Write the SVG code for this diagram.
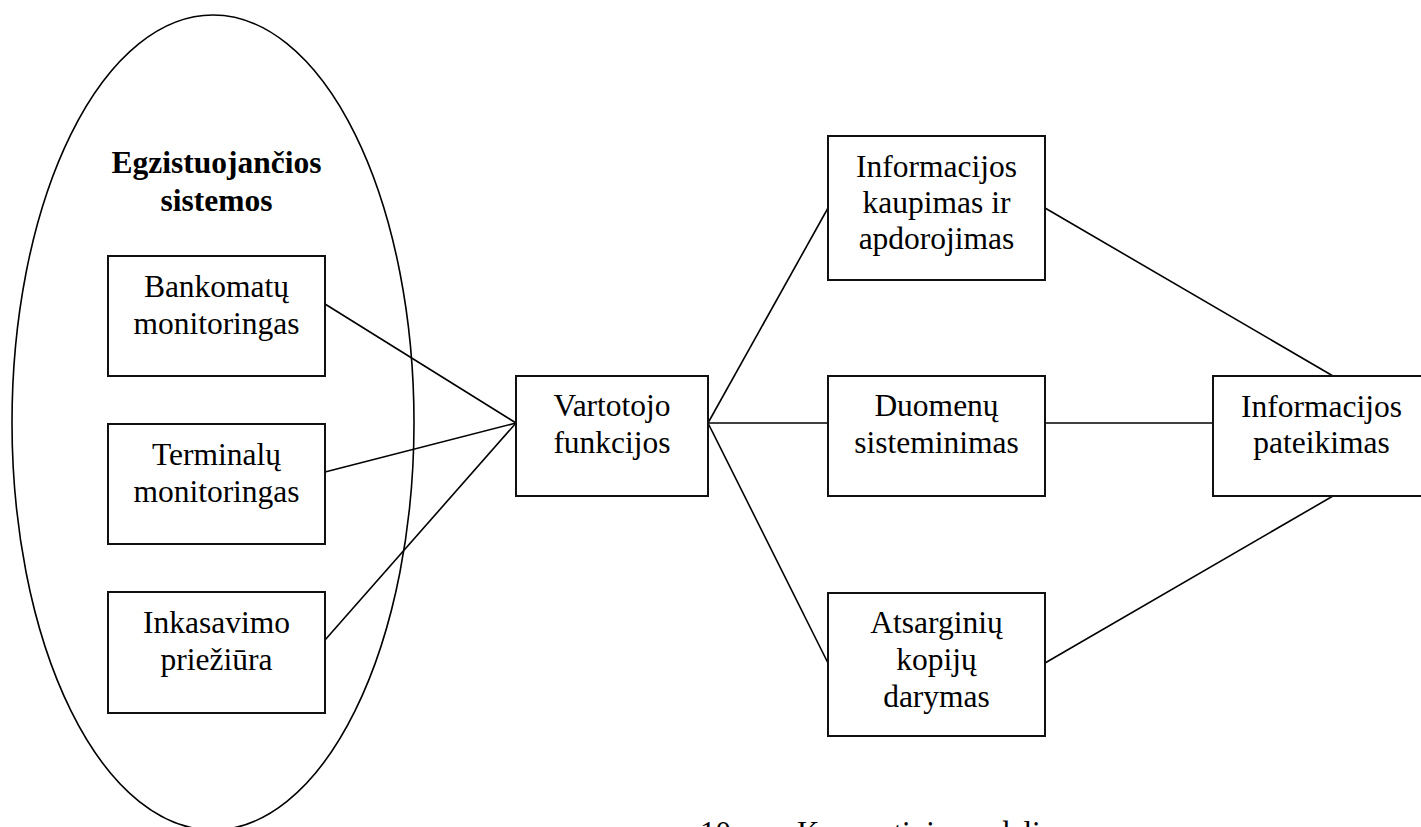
<svg xmlns="http://www.w3.org/2000/svg" width="1421" height="827" viewBox="0 0 1421 827">
  <style>
    .box { fill: none; stroke: #111; stroke-width: 2; }
    .edge { fill: none; stroke: #000; stroke-width: 1.6; }
    .lbl { font-family: "Liberation Serif", "Times New Roman", serif; font-size: 31.5px; fill: #000; text-anchor: middle; }
    .hdr { font-weight: bold; }
  </style>
  <rect width="1421" height="827" fill="#fff"/>

  <!-- group of existing systems -->
  <g id="existing-systems">
    <ellipse cx="213" cy="422.5" rx="201" ry="407.5" class="edge"/>
    <text class="lbl hdr" x="216.5" y="173">Egzistuojančios</text>
    <text class="lbl hdr" x="216.5" y="211">sistemos</text>
  </g>

  <!-- connectors -->
  <g id="connectors">
    <line class="edge" x1="325" y1="304" x2="516" y2="423"/>
    <line class="edge" x1="325" y1="472" x2="516" y2="423"/>
    <line class="edge" x1="325" y1="640" x2="516" y2="423"/>
    <line class="edge" x1="708" y1="423" x2="828" y2="208"/>
    <line class="edge" x1="708" y1="423" x2="828" y2="423"/>
    <line class="edge" x1="708" y1="423" x2="828" y2="663"/>
    <line class="edge" x1="1045" y1="208" x2="1333" y2="376"/>
    <line class="edge" x1="1045" y1="423" x2="1213" y2="423"/>
    <line class="edge" x1="1045" y1="663" x2="1333" y2="496"/>
  </g>

  <g id="bankomatu">
    <rect class="box" x="108" y="256" width="217" height="120"/>
    <text class="lbl" x="216.5" y="297">Bankomatų</text>
    <text class="lbl" x="216.5" y="334">monitoringas</text>
  </g>
  <g id="terminalu">
    <rect class="box" x="108" y="424" width="217" height="120"/>
    <text class="lbl" x="216.5" y="465">Terminalų</text>
    <text class="lbl" x="216.5" y="502">monitoringas</text>
  </g>
  <g id="inkasavimo">
    <rect class="box" x="108" y="592" width="217" height="121"/>
    <text class="lbl" x="216.5" y="633">Inkasavimo</text>
    <text class="lbl" x="216.5" y="670">priežiūra</text>
  </g>

  <g id="vartotojo">
    <rect class="box" x="516" y="376" width="192" height="120"/>
    <text class="lbl" x="612" y="416">Vartotojo</text>
    <text class="lbl" x="612" y="453">funkcijos</text>
  </g>

  <g id="kaupimas">
    <rect class="box" x="828" y="136" width="217" height="144"/>
    <text class="lbl" x="936.5" y="177">Informacijos</text>
    <text class="lbl" x="936.5" y="213">kaupimas ir</text>
    <text class="lbl" x="936.5" y="249">apdorojimas</text>
  </g>
  <g id="sisteminimas">
    <rect class="box" x="828" y="376" width="217" height="120"/>
    <text class="lbl" x="936.5" y="416">Duomenų</text>
    <text class="lbl" x="936.5" y="453">sisteminimas</text>
  </g>
  <g id="kopijos">
    <rect class="box" x="828" y="593" width="217" height="143"/>
    <text class="lbl" x="936.5" y="633">Atsarginių</text>
    <text class="lbl" x="936.5" y="670">kopijų</text>
    <text class="lbl" x="936.5" y="707">darymas</text>
  </g>

  <g id="pateikimas">
    <rect class="box" x="1213" y="376" width="218" height="120"/>
    <text class="lbl" x="1321.5" y="417">Informacijos</text>
    <text class="lbl" x="1321.5" y="453">pateikimas</text>
  </g>

  <!-- figure caption, running past the lower edge -->
  <text x="700" y="843" style="font-family: 'Liberation Serif', 'Times New Roman', serif; font-size: 31px;">10 pav. Konceptinis modelis</text>
</svg>
